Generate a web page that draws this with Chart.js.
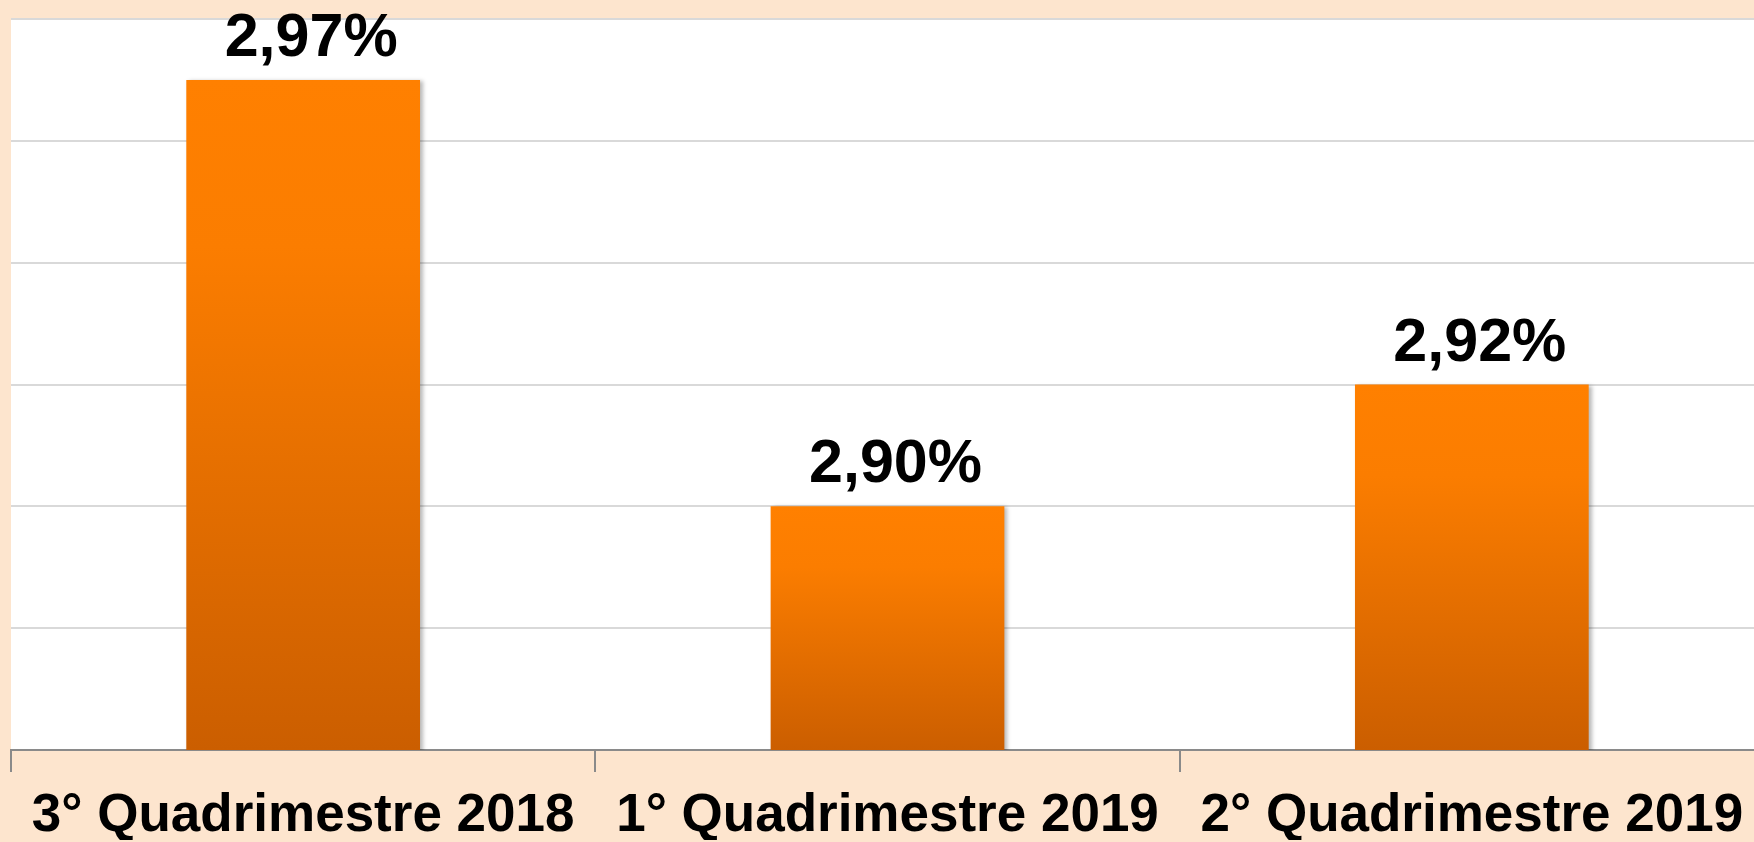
<!DOCTYPE html>
<html>
<head>
<meta charset="utf-8">
<script src="https://cdn.jsdelivr.net/npm/chart.js@4.4.1/dist/chart.umd.min.js"></script>
<style>
  html, body { margin: 0; padding: 0; background: #fde5ce; overflow: hidden; }
  #wrap { width: 1764px; height: 842px; }
</style>
</head>
<body>
<div id="wrap"><canvas id="quadChart"></canvas></div>
<script>
const categories = ["3° Quadrimestre 2018", "1° Quadrimestre 2019", "2° Quadrimestre 2019"];
const values = [2.97, 2.90, 2.92];
const valueLabels = ["2,97%", "2,90%", "2,92%"];
const yMin = 2.86;
const yMax = 2.98;
const yStep = 0.02;

// white plot area on the peach background, soft shadow under the bars
const plotBackground = {
  id: "plotBackground",
  beforeDraw(chart) {
    const { ctx, chartArea } = chart;
    ctx.save();
    ctx.fillStyle = "#ffffff";
    ctx.fillRect(chartArea.left, chartArea.top, chartArea.right - chartArea.left, chartArea.bottom - chartArea.top);
    ctx.restore();
  },
  beforeDatasetsDraw(chart) {
    const ctx = chart.ctx;
    ctx.save();
    ctx.shadowColor = "rgba(0,0,0,0.28)";
    ctx.shadowOffsetX = 3;
    ctx.shadowOffsetY = 1;
    ctx.shadowBlur = 4;
  },
  afterDatasetsDraw(chart) {
    chart.ctx.restore();
  }
};

const barLabels = {
  id: "barLabels",
  afterDatasetsDraw(chart) {
    const ctx = chart.ctx;
    const meta = chart.getDatasetMeta(0);
    ctx.save();
    ctx.fillStyle = "#000000";
    ctx.font = "bold 61px 'Liberation Sans', Arial, sans-serif";
    ctx.textAlign = "center";
    ctx.textBaseline = "alphabetic";
    meta.data.forEach((bar, i) => {
      ctx.fillText(valueLabels[i], bar.x + 8, bar.y - 24);
    });
    ctx.restore();
  }
};

const ctx = document.getElementById("quadChart").getContext("2d");
const quadChart = new Chart(ctx, {
  type: "bar",
  data: {
    labels: categories,
    datasets: [
      {
        data: values,
        backgroundColor: function (context) {
          const chart = context.chart;
          const area = chart.chartArea;
          if (!area) return "#ff7f00";
          const top = chart.scales.y.getPixelForValue(values[context.dataIndex]);
          const g = chart.ctx.createLinearGradient(0, top, 0, area.bottom);
          g.addColorStop(0, "#ff8000");
          g.addColorStop(0.25, "#fb7d00");
          g.addColorStop(1, "#cb5e00");
          return g;
        },
        borderWidth: 0,
        barPercentage: 0.4,
        categoryPercentage: 1.0,
      },
    ],
  },
  options: {
    responsive: true,
    maintainAspectRatio: false,
    animation: false,
    layout: {
      padding: { left: 11, top: 19, right: 0, bottom: 2 },
    },
    plugins: {
      legend: { display: false },
      tooltip: { enabled: false },
    },
    scales: {
      x: {
        offset: true,
        grid: {
          offset: true,
          drawOnChartArea: false,
          drawTicks: true,
          tickLength: 22,
          color: "#8a8a8a",
          lineWidth: 2,
        },
        border: { display: true, color: "#8a8a8a", width: 2 },
        ticks: {
          color: "#000000",
          padding: 18,
          maxRotation: 0,
          font: { family: "'Liberation Sans', Arial, sans-serif", size: 53, weight: "bold", lineHeight: 1.0 },
        },
        afterFit(scale) {
          scale.height = 90;
        },
      },
      y: {
        min: yMin,
        max: yMax,
        ticks: { display: false, stepSize: yStep },
        grid: { color: "#d9d9d9", lineWidth: 2, drawTicks: false },
        border: { display: false },
      },
    },
  },
  plugins: [plotBackground, barLabels],
});
</script>
</body>
</html>
